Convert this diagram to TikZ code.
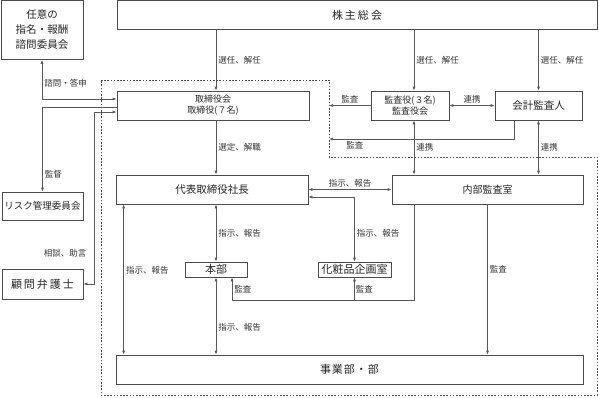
\documentclass[tikz,border=0pt]{standalone}
\usepackage{fontspec}
\setmainfont{Noto Sans CJK JP}
\usetikzlibrary{arrows.meta,positioning}
\tikzset{>={Latex[length=4pt,width=3pt]}}
\tikzset{
  box/.style={draw=black!70, line width=0.7pt, fill=white, align=center,
    inner sep=1pt, text=black!85, font=\fontsize{10}{12}\selectfont},
  link/.style={draw=black!65, line width=0.7pt},
  lbl/.style={font=\fontsize{8.5}{10}\selectfont, text=black!80, inner sep=2pt},
  region/.style={draw=black!70, line width=0.6pt, dash pattern=on 1.6pt off 1.6pt}
}
\begin{document}
\begin{tikzpicture}[x=1pt, y=-1pt]
  \useasboundingbox (0,0) rectangle (599,397);
  % dashed area
  \coordinate (dA) at (329,80);
  \draw[region] (101,80) -- (dA) -- (329,157) -- (597,157) -- (597,395) -- (101,395) -- cycle;
  % boxes
  \node[box, minimum width=82pt, minimum height=59pt, font=\fontsize{10.5}{15}\selectfont] (advisory) at (42,30) {任意の\\指名・報酬\\諮問委員会};
  \node[box, minimum width=480pt, minimum height=29pt, font=\fontsize{11}{13}\selectfont] (gsm) at (357,15) {株\kern2pt 主\kern2pt 総\kern2pt 会};
  \node[box, minimum width=192pt, minimum height=29pt, font=\fontsize{9}{11}\selectfont] (board) at (213,105.5) {取締役会\\取締役(７名)};
  \node[box, minimum width=78pt, minimum height=29pt, font=\fontsize{9}{11}\selectfont] (auditors) at (410,105.5) {監査役(３名)\\監査役会};
  \node[box, minimum width=87pt, minimum height=29pt, font=\fontsize{10.5}{12}\selectfont] (accountant) at (538.5,105.5) {会計監査人};
  \node[box, minimum width=192pt, minimum height=29pt, font=\fontsize{10.5}{12}\selectfont] (president) at (212,189.5) {代表取締役社長};
  \node[box, minimum width=191pt, minimum height=29pt] (internal) at (487.5,189.5) {内部監査室};
  \node[box, minimum width=62pt, minimum height=15pt, font=\fontsize{11}{12}\selectfont] (honbu) at (216,269.5) {本部};
  \node[box, minimum width=73pt, minimum height=15pt, font=\fontsize{11}{12}\selectfont] (cosme) at (354.5,269.5) {化粧品企画室};
  \node[box, minimum width=467pt, minimum height=29pt, font=\fontsize{11}{12}\selectfont] (divisions) at (349.5,369.5) {事\kern1pt 業\kern1pt 部\kern1pt ・\kern1pt 部};
  \node[box, minimum width=81pt, minimum height=28pt, font=\fontsize{9.5}{11}\selectfont] (risk) at (42.5,206) {リスク管理委員会};
  \node[box, minimum width=81pt, minimum height=30pt, font=\fontsize{11}{12}\selectfont] (lawyer) at (42.5,284) {顧\kern2pt 問\kern2pt 弁\kern2pt 護\kern2pt 士};
  % columns
  \coordinate (acol) at (414,0);
  \coordinate (accmon) at (514,139);
  \coordinate (imon) at (414,300);
  \coordinate (hmon) at (232,300);
  % shareholders
  \draw[link,->] (gsm.south -| honbu) -- node[lbl, midway, right] {選任、解任} (board.north -| honbu);
  \draw[link,->] (gsm.south -| acol) -- node[lbl, midway, right] {選任、解任} (auditors.north -| acol);
  \draw[link,->] (gsm.south -| accountant) -- node[lbl, midway, right] {選任、解任} (accountant.north);
  % auditors
  \draw[link,->] (auditors.west) -- node[lbl, midway, above] {監査} (auditors.west -| dA);
  \draw[link,<->] (auditors.east) -- node[lbl, midway, above] {連携} (accountant.west);
  \draw[link,->] (accountant.south -| accmon) |- node[lbl, pos=.93, below] {監査} (accmon -| dA);
  \draw[link,<->] (auditors.south -| acol) -- node[lbl, midway, right] {連携} (internal.north -| acol);
  \draw[link,<->] (accountant.south) -- node[lbl, midway, right] {連携} (accountant.south |- internal.north);
  % executive line
  \draw[link,->] (board.south -| honbu) -- node[lbl, midway, right] {選定、解職} (president.north -| honbu);
  \draw[link,<->] (president.east) -- node[lbl, midway, above] {指示、報告} (internal.west);
  \draw[link,<->] ([yshift=-7.5pt]president.east) -| node[lbl, pos=.78, right] {指示、報告} (cosme.north);
  \draw[link,<->] (president.south -| honbu) -- node[lbl, midway, right] {指示、報告} (honbu.north);
  \draw[link,<->] (honbu.south) -- node[lbl, pos=.65, right] {指示、報告} (honbu.south |- divisions.north);
  \draw[link,<->] ([xshift=8pt]president.south west) -- node[lbl, pos=.44, right] {指示、報告} ([xshift=8pt]president.south west |- divisions.north);
  % internal audit
  \draw[link,->] (internal.south) -- node[lbl, pos=.43, right] {監査} (internal.south |- divisions.north);
  \draw[link] (internal.south -| imon) -- (imon) -- (hmon);
  \draw[link,->] (hmon) -- node[lbl, midway, right] {監査} (hmon |- honbu.south);
  \draw[link,->] (imon -| cosme) -- node[lbl, midway, right, inner sep=1pt] {監査} (cosme.south);
  % committees
  \draw[link,<->] ([yshift=6.5pt]board.west) -| node[lbl, pos=.7, right] {諮問・答申} (advisory.south);
  \draw[link,->] ([yshift=-1.5pt]board.west) -| node[lbl, pos=.9, right] {監督} (risk.north);
  \draw[link,<->] (lawyer.east) -| node[lbl, pos=.59, left, xshift=-6pt] {相談、助言} ([xshift=-22pt,yshift=-6.5pt]board.west) -- ([yshift=-6.5pt]board.west);
\end{tikzpicture}
\end{document}
